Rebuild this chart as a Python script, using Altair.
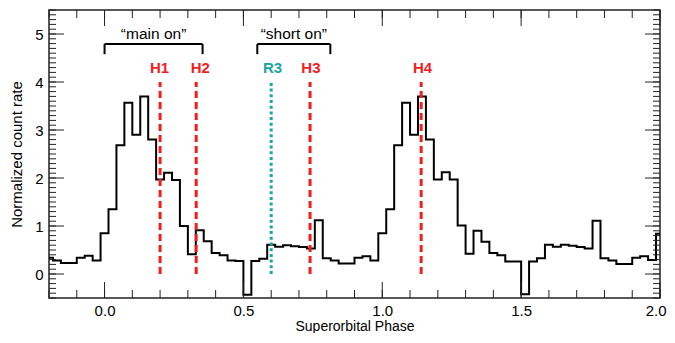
import altair as alt
import pandas as pd

# ---------------- data ----------------
bin_index = list(range(-7, 71))          # bins of width 1/35 in superorbital phase
phase = [k / 35 for k in bin_index]
rate = [
    0.34, 0.28, 0.23, 0.23, 0.34, 0.38, 0.28,
    0.85, 1.35, 2.68, 3.57, 2.90, 3.70, 2.80, 1.97, 2.11, 1.96, 1.00, 0.41,
    0.91, 0.68, 0.44, 0.39, 0.28, 0.27, -0.43, 0.27, 0.32, 0.61, 0.57, 0.60,
    0.58, 0.56, 0.53, 1.12, 0.33, 0.28, 0.22, 0.22, 0.34, 0.37, 0.28,
    0.85, 1.35, 2.68, 3.57, 2.90, 3.70, 2.80, 1.97, 2.12, 1.97, 1.01, 0.42,
    0.90, 0.67, 0.44, 0.39, 0.26, 0.26, -0.42, 0.26, 0.33, 0.61, 0.57, 0.61,
    0.59, 0.56, 0.53, 1.11, 0.33, 0.28, 0.21, 0.21, 0.34, 0.37, 0.29,
    0.84,
]

x_label_values = [0.0, 0.5, 1.0, 1.5, 2.0]
y_label_values = [0, 1, 2, 3, 4, 5]
x_minor_ticks = [round(-0.2 + 0.1 * i, 1) for i in range(23)]
x_major_ticks = [0.0, 0.5, 1.0, 1.5, 2.0]
y_minor_ticks = [round(-0.5 + 0.1 * i, 1) for i in range(61)]
y_major_ticks = [0, 1, 2, 3, 4, 5]

marker_names = ["H1", "H2", "R3", "H3", "H4"]
marker_phase = [0.20, 0.33, 0.60, 0.74, 1.14]
marker_label_phase = [0.198, 0.345, 0.605, 0.743, 1.145]
marker_kind = ["H", "H", "R", "H", "H"]
marker_bottom = 0.0
marker_top = 4.0
marker_label_y = 4.18

bracket_text = ["\u201cmain on\u201d", "\u201cshort on\u201d"]
bracket_start = [0.0, 0.55]
bracket_end = [0.353, 0.813]
bracket_y = 4.79
bracket_tick_bottom = 4.58
bracket_text_y = 4.9

RED = "#f21d1d"
TEAL = "#17a6a0"
FONT = "Liberation Sans"

# ---------------- chart ----------------
W, H = 611, 288
xs = alt.Scale(domain=[-0.2, 2.0], nice=False, zero=False)
ys = alt.Scale(domain=[-0.5, 5.5], nice=False, zero=False)
# only the label sitting on the right end (2.0) is flush-adjusted, pushed 6px outward
xa = alt.Axis(values=x_label_values, format=".1f", title="Superorbital Phase",
              labelFlush=1, labelFlushOffset=6, labelOverlap=False, labelPadding=5,
              titleY=32, titleBaseline="alphabetic", titleFontSize=14)
ya = alt.Axis(values=y_label_values, format="d", title="Normalized count rate",
              labelFlush=False, labelOverlap=False, labelPadding=6,
              titlePadding=10, titleFontSize=15)


def X(field):
    return alt.X(field, scale=xs, axis=xa)


def Y(field):
    return alt.Y(field, scale=ys, axis=ya)


hist_df = pd.DataFrame({"phase": phase, "rate": rate})
hist = alt.Chart(hist_df).mark_line(
    interpolate="step", color="black", strokeWidth=2
).encode(x=X("phase:Q"), y=Y("rate:Q"))


def xticks(vals, size, top):
    df = pd.DataFrame({"v": vals})
    return alt.Chart(df).mark_rule(color="#222", strokeWidth=1).encode(
        x=X("v:Q"),
        y=alt.value(0 if top else H),
        y2=alt.value(size if top else H - size),
    )


def yticks(vals, size, right):
    df = pd.DataFrame({"v": vals})
    return alt.Chart(df).mark_rule(color="#222", strokeWidth=1).encode(
        y=Y("v:Q"),
        x=alt.value(W if right else 0),
        x2=alt.value(W - size if right else size),
    )


ticks = [
    xticks(x_minor_ticks, 8, False), xticks(x_major_ticks, 16, False),
    xticks(x_minor_ticks, 8, True), xticks(x_major_ticks, 16, True),
    yticks(y_minor_ticks, 7, False), yticks(y_major_ticks, 15, False),
    yticks(y_minor_ticks, 7, True), yticks(y_major_ticks, 15, True),
]

mk_df = pd.DataFrame({
    "name": marker_names, "phase": marker_phase, "lphase": marker_label_phase,
    "kind": marker_kind, "y0": marker_bottom, "y1": marker_top,
    "ly": marker_label_y,
})

h_lines = alt.Chart(mk_df).transform_filter("datum.kind == 'H'").mark_rule(
    color=RED, strokeWidth=3, strokeDash=[7, 4]
).encode(x=X("phase:Q"), y=Y("y0:Q"), y2="y1:Q")
r_lines = alt.Chart(mk_df).transform_filter("datum.kind == 'R'").mark_rule(
    color=TEAL, strokeWidth=3, strokeDash=[3, 2.7]
).encode(x=X("phase:Q"), y=Y("y0:Q"), y2="y1:Q")
labels = alt.Chart(mk_df).mark_text(
    font=FONT, fontSize=15, fontWeight="bold", baseline="alphabetic", align="center"
).encode(
    x=X("lphase:Q"), y=Y("ly:Q"), text="name:N",
    color=alt.Color("kind:N", scale=alt.Scale(domain=["H", "R"], range=[RED, TEAL]), legend=None),
)

br_df = pd.DataFrame({
    "text": bracket_text, "x0": bracket_start, "x1": bracket_end,
    "y": bracket_y, "yb": bracket_tick_bottom, "ty": bracket_text_y,
})
br_df["xm"] = (br_df["x0"] + br_df["x1"]) / 2

br_h = alt.Chart(br_df).mark_rule(color="black", strokeWidth=2).encode(
    x=X("x0:Q"), x2="x1:Q", y=Y("y:Q"))
br_l = alt.Chart(br_df).mark_rule(color="black", strokeWidth=2).encode(
    x=X("x0:Q"), y=Y("y:Q"), y2="yb:Q")
br_r = alt.Chart(br_df).mark_rule(color="black", strokeWidth=2).encode(
    x=X("x1:Q"), y=Y("y:Q"), y2="yb:Q")
br_t = alt.Chart(br_df).mark_text(
    font=FONT, fontSize=15.5, baseline="alphabetic", align="center", color="black"
).encode(x=X("xm:Q"), y=Y("ty:Q"), text="text:N")

chart = alt.layer(
    hist, *ticks, h_lines, r_lines, labels, br_h, br_l, br_r, br_t
).properties(
    width=W, height=H,
    autosize=alt.AutoSizeParams(type="none"),
    padding={"left": 41, "top": 2, "right": 7, "bottom": 35},
).configure_view(
    stroke="#222", strokeWidth=1.5
).configure_axis(
    domain=False, ticks=False, tickSize=0, grid=False,
    labelFont=FONT, labelFontSize=15, labelColor="black",
    titleFont=FONT, titleFontWeight="normal", titleColor="black",
)

chart.save("out.html", embed_options={"renderer": "svg", "actions": False})
